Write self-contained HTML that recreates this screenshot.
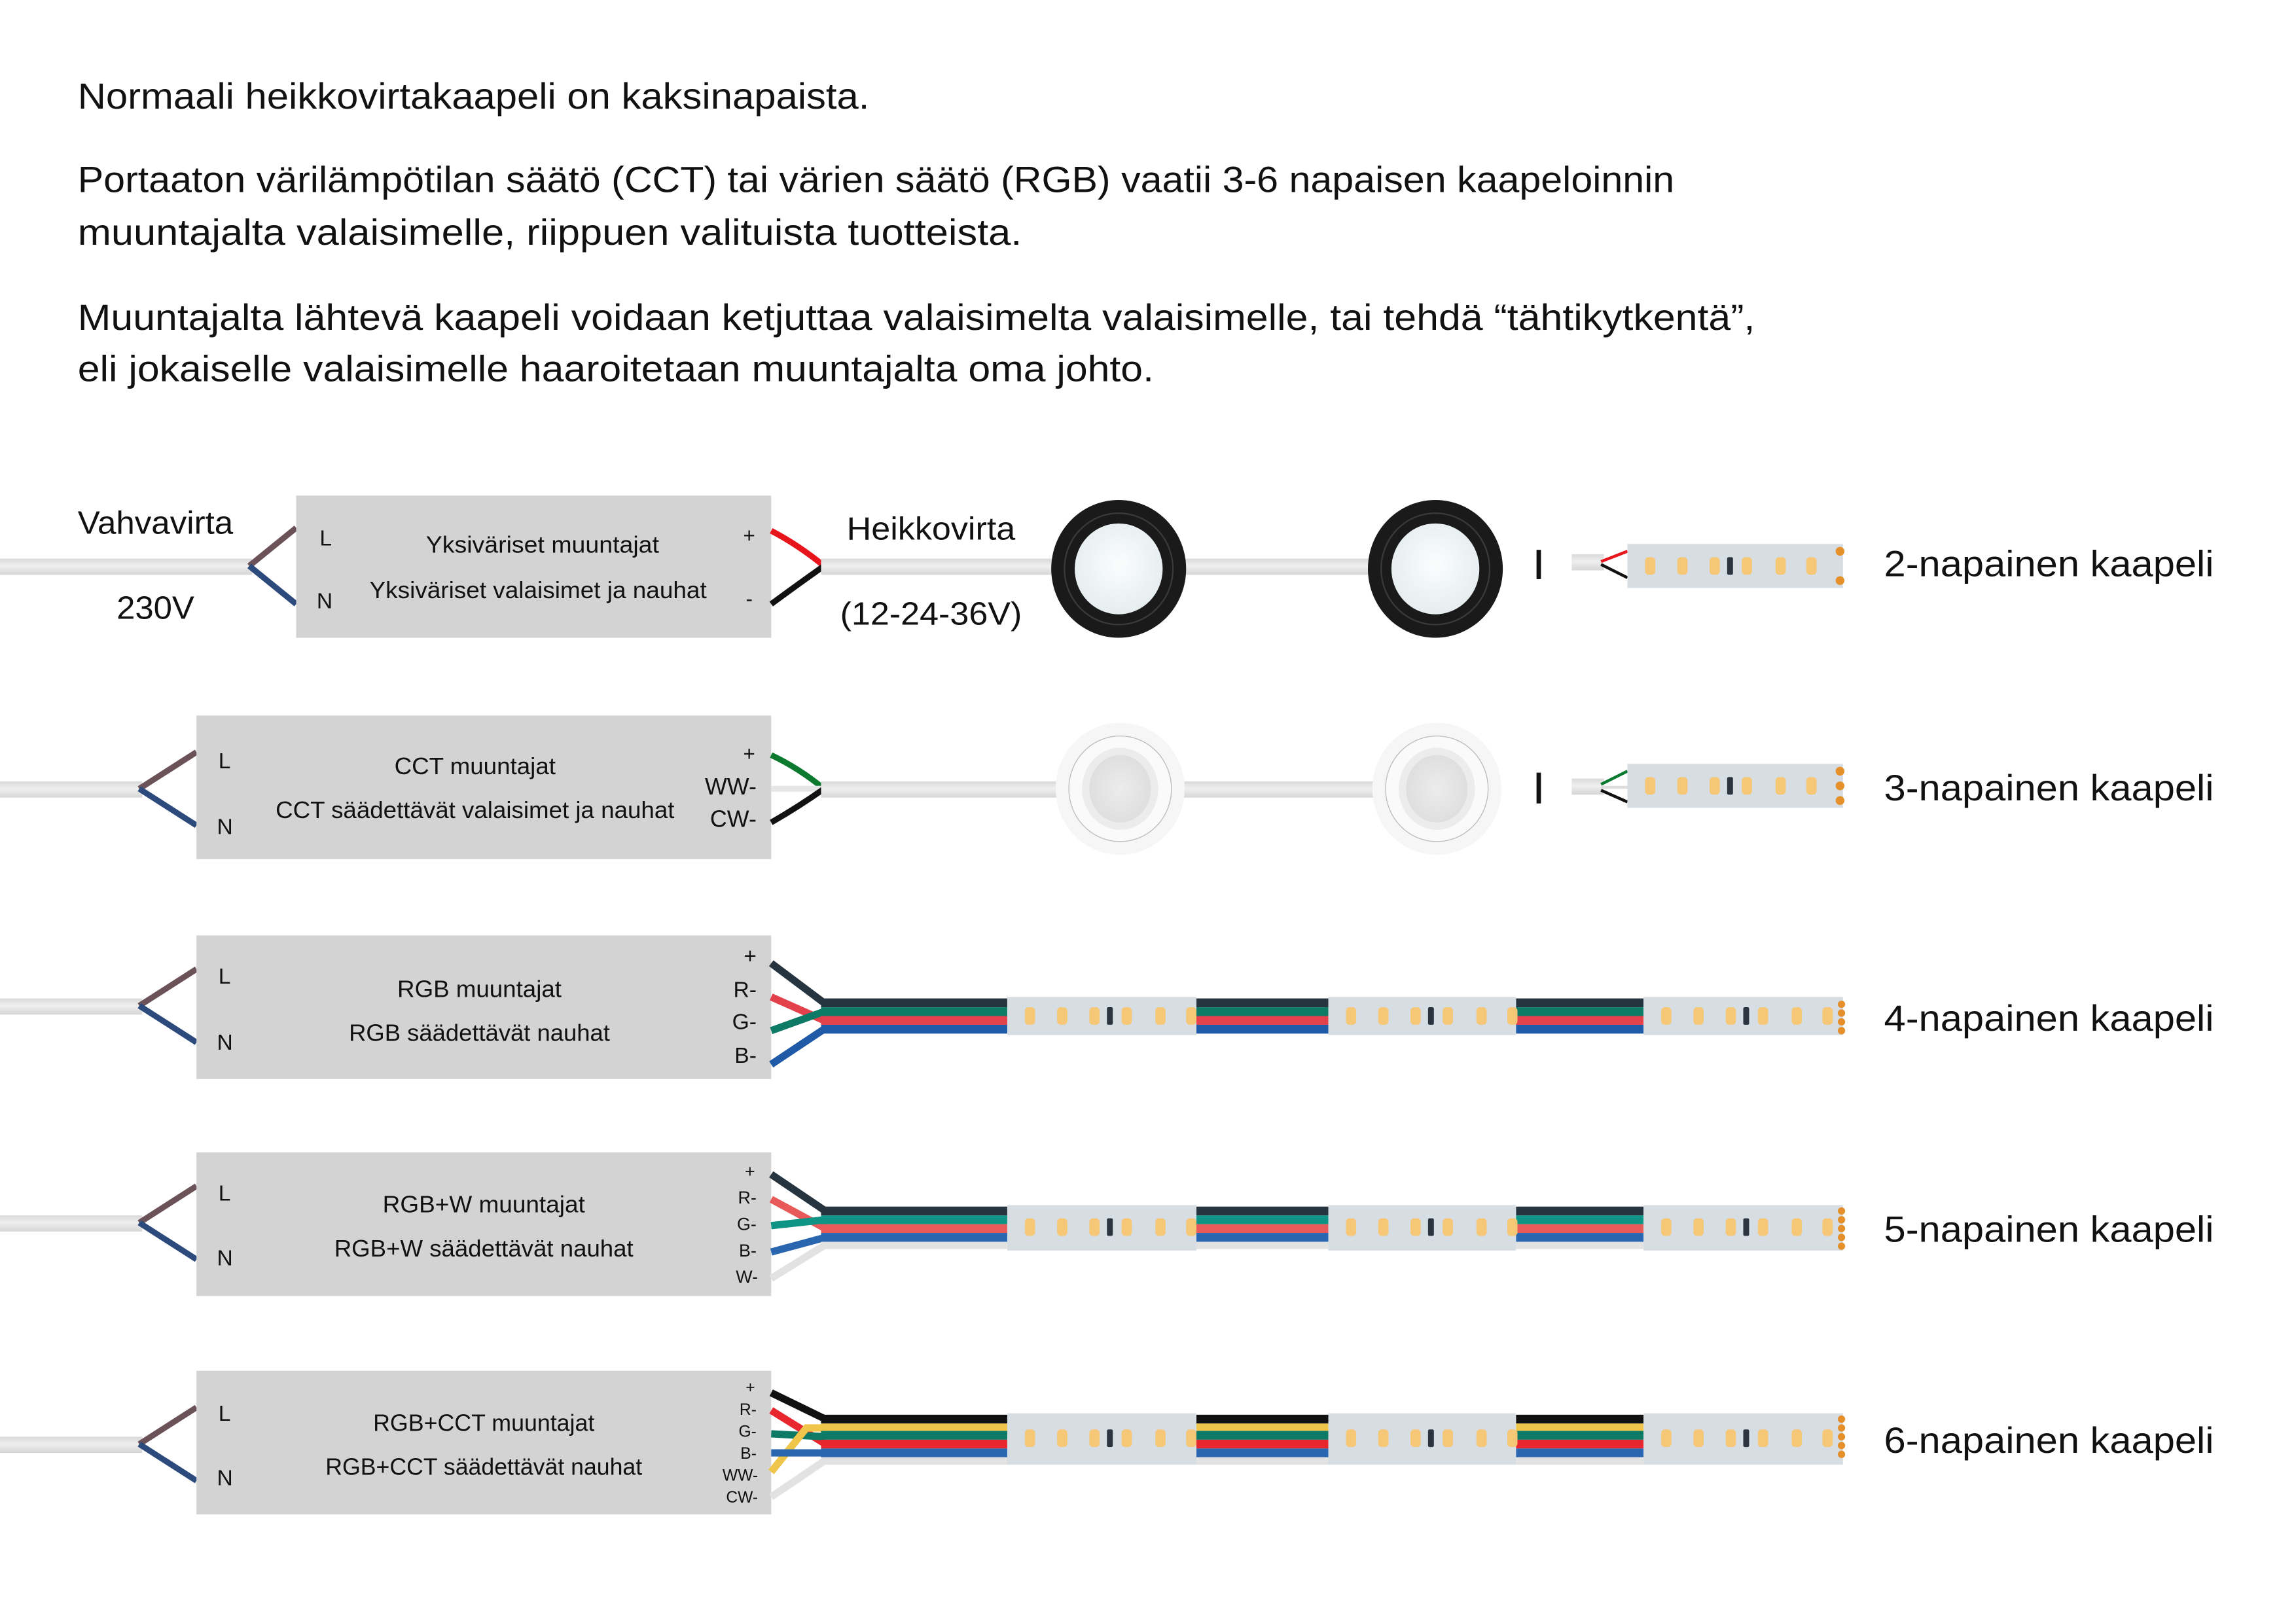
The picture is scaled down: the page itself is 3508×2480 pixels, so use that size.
<!DOCTYPE html>
<html><head><meta charset="utf-8"><style>
html,body{margin:0;padding:0;background:#fff}
svg{display:block}
text{font-family:"Liberation Sans",sans-serif;fill:#111}
</style></head><body>
<svg width="3508" height="2480" viewBox="0 0 1566 1107" xmlns="http://www.w3.org/2000/svg">
<defs>
<linearGradient id="cab" x1="0" y1="0" x2="0" y2="1">
<stop offset="0" stop-color="#d9d9d9"/><stop offset="0.45" stop-color="#efefef"/><stop offset="1" stop-color="#d6d6d6"/>
</linearGradient>
<radialGradient id="lens" cx="0.5" cy="0.45" r="0.6"><stop offset="0" stop-color="#fbfdfd"/><stop offset="1" stop-color="#e3ecee"/></radialGradient>
<radialGradient id="cup" cx="0.5" cy="0.5" r="0.6"><stop offset="0" stop-color="#ececec"/><stop offset="1" stop-color="#dcdcdc"/></radialGradient>
<g id="leds">
<rect x="12" y="-6" width="7" height="12" rx="2.5" fill="#f6c777"/>
<rect x="34" y="-6" width="7" height="12" rx="2.5" fill="#f6c777"/>
<rect x="56" y="-6" width="7" height="12" rx="2.5" fill="#f6c777"/>
<rect x="68" y="-6" width="4" height="12" rx="1" fill="#2c3440"/>
<rect x="78" y="-6" width="7" height="12" rx="2.5" fill="#f6c777"/>
<rect x="101" y="-6" width="7" height="12" rx="2.5" fill="#f6c777"/>
<rect x="122" y="-6" width="7" height="12" rx="2.5" fill="#f6c777"/>
</g>
<g id="blk">
<ellipse cx="0" cy="0" rx="46" ry="47" fill="#1a1a1a"/>
<ellipse cx="0" cy="0" rx="37" ry="38" fill="none" stroke="#3a3a3a" stroke-width="1"/>
<ellipse cx="0" cy="0" rx="30" ry="31" fill="url(#lens)"/>
</g>
<g id="wht">
<ellipse cx="0" cy="0" rx="44" ry="45" fill="#f6f6f6"/>
<ellipse cx="0" cy="0" rx="35" ry="36" fill="#fafafa" stroke="#bcbcbc" stroke-width="0.6"/>
<ellipse cx="0" cy="0" rx="26" ry="28" fill="#ececec"/>
<ellipse cx="0" cy="0" rx="21" ry="23" fill="url(#cup)"/>
</g>
</defs>

<g font-size="25">
<text x="53" y="74" textLength="540" lengthAdjust="spacingAndGlyphs">Normaali heikkovirtakaapeli on kaksinapaista.</text>
<text x="53" y="131" textLength="1089" lengthAdjust="spacingAndGlyphs">Portaaton värilämpötilan säätö (CCT) tai värien säätö (RGB) vaatii 3-6 napaisen kaapeloinnin</text>
<text x="53" y="167" textLength="644" lengthAdjust="spacingAndGlyphs">muuntajalta valaisimelle, riippuen valituista tuotteista.</text>
<text x="53" y="225" textLength="1144" lengthAdjust="spacingAndGlyphs">Muuntajalta lähtevä kaapeli voidaan ketjuttaa valaisimelta valaisimelle, tai tehdä “tähtikytkentä”,</text>
<text x="53" y="260" textLength="734" lengthAdjust="spacingAndGlyphs">eli jokaiselle valaisimelle haaroitetaan muuntajalta oma johto.</text>
</g>

<!-- ROW 1 -->
<rect x="0" y="381" width="172" height="11" fill="url(#cab)"/>
<path d="M170 386 L202 360" stroke="#6b5258" stroke-width="4" fill="none"/>
<path d="M170 386 L202 412" stroke="#2c4a7c" stroke-width="4" fill="none"/>
<rect x="202" y="338" width="324" height="97" fill="#d3d3d3"/>
<text x="106" y="364" font-size="22" text-anchor="middle" textLength="106" lengthAdjust="spacingAndGlyphs">Vahvavirta</text>
<text x="106" y="422" font-size="22" text-anchor="middle" textLength="53" lengthAdjust="spacingAndGlyphs">230V</text>
<text x="218" y="372" font-size="15">L</text>
<text x="216" y="415" font-size="15">N</text>
<text x="370" y="377" font-size="16" text-anchor="middle" textLength="159" lengthAdjust="spacingAndGlyphs">Yksiväriset muuntajat</text>
<text x="367" y="408" font-size="16" text-anchor="middle" textLength="230" lengthAdjust="spacingAndGlyphs">Yksiväriset valaisimet ja nauhat</text>
<text x="511" y="370" font-size="14" text-anchor="middle">+</text>
<text x="511" y="413" font-size="14" text-anchor="middle">-</text>
<path d="M526 362 Q545 372 562 386" stroke="#e8141c" stroke-width="4" fill="none"/>
<path d="M526 412 Q545 398 562 386" stroke="#111" stroke-width="4" fill="none"/>
<rect x="560" y="381" width="160" height="11" fill="url(#cab)"/>
<rect x="806" y="381" width="130" height="11" fill="url(#cab)"/>
<text x="635" y="368" font-size="22" text-anchor="middle" textLength="115" lengthAdjust="spacingAndGlyphs">Heikkovirta</text>
<text x="635" y="426" font-size="22" text-anchor="middle" textLength="124" lengthAdjust="spacingAndGlyphs">(12-24-36V)</text>
<use href="#blk" x="763" y="388"/>
<use href="#blk" x="979" y="388"/>
<rect x="1048" y="375" width="3" height="20" fill="#111"/>
<rect x="1072" y="378" width="22" height="11" fill="url(#cab)"/>
<path d="M1092 383 L1110 376" stroke="#e8141c" stroke-width="2" fill="none"/>
<path d="M1092 385 L1110 394" stroke="#111" stroke-width="2" fill="none"/>
<rect x="1110" y="371" width="147" height="30" fill="#d6dde3"/>
<use href="#leds" x="1110" y="386"/>
<circle cx="1255" cy="376" r="3" fill="#e5902a"/><circle cx="1255" cy="396" r="3" fill="#e5902a"/>
<text x="1285" y="393" font-size="25" textLength="225" lengthAdjust="spacingAndGlyphs">2-napainen kaapeli</text>

<!-- ROW 2 -->
<rect x="0" y="533" width="97" height="11" fill="url(#cab)"/>
<path d="M95 538 L134 513" stroke="#6b5258" stroke-width="4" fill="none"/>
<path d="M95 538 L134 563" stroke="#2c4a7c" stroke-width="4" fill="none"/>
<rect x="134" y="488" width="392" height="98" fill="#d3d3d3"/>
<text x="149" y="524" font-size="15">L</text>
<text x="148" y="569" font-size="15">N</text>
<text x="324" y="528" font-size="16" text-anchor="middle" textLength="110" lengthAdjust="spacingAndGlyphs">CCT muuntajat</text>
<text x="324" y="558" font-size="16" text-anchor="middle" textLength="272" lengthAdjust="spacingAndGlyphs">CCT säädettävät valaisimet ja nauhat</text>
<text x="511" y="519" font-size="14" text-anchor="middle">+</text>
<text x="516" y="542" font-size="16" text-anchor="end">WW-</text>
<text x="516" y="564" font-size="16" text-anchor="end">CW-</text>
<path d="M526 515 Q545 524 562 538" stroke="#0b7a2e" stroke-width="4" fill="none"/>
<path d="M526 538 L562 538" stroke="#e6e6e6" stroke-width="4" fill="none"/>
<path d="M526 561 Q545 550 562 538" stroke="#111" stroke-width="4" fill="none"/>
<rect x="560" y="533" width="162" height="11" fill="url(#cab)"/>
<rect x="806" y="533" width="134" height="11" fill="url(#cab)"/>
<use href="#wht" x="764" y="538"/>
<use href="#wht" x="980" y="538"/>
<rect x="1048" y="527" width="3" height="21" fill="#111"/>
<rect x="1072" y="531" width="22" height="11" fill="url(#cab)"/>
<path d="M1092 535 L1110 526" stroke="#0b7a2e" stroke-width="2" fill="none"/>
<path d="M1092 537 L1110 537" stroke="#ddd" stroke-width="2" fill="none"/>
<path d="M1092 539 L1110 547" stroke="#111" stroke-width="2" fill="none"/>
<rect x="1110" y="521" width="147" height="30" fill="#d6dde3"/>
<use href="#leds" x="1110" y="536"/>
<circle cx="1255" cy="526" r="3" fill="#e5902a"/><circle cx="1255" cy="536" r="3" fill="#e5902a"/><circle cx="1255" cy="546" r="3" fill="#e5902a"/>
<text x="1285" y="546" font-size="25" textLength="225" lengthAdjust="spacingAndGlyphs">3-napainen kaapeli</text>

<!-- ROW 3 -->
<rect x="0" y="681" width="97" height="11" fill="url(#cab)"/>
<path d="M95 686 L134 661" stroke="#6b5258" stroke-width="4" fill="none"/>
<path d="M95 686 L134 711" stroke="#2c4a7c" stroke-width="4" fill="none"/>
<rect x="134" y="638" width="392" height="98" fill="#d3d3d3"/>
<text x="149" y="671" font-size="15">L</text>
<text x="148" y="716" font-size="15">N</text>
<text x="327" y="680" font-size="16" text-anchor="middle" textLength="112" lengthAdjust="spacingAndGlyphs">RGB muuntajat</text>
<text x="327" y="710" font-size="16" text-anchor="middle" textLength="178" lengthAdjust="spacingAndGlyphs">RGB säädettävät nauhat</text>
<g font-size="15" text-anchor="end">
<text x="516" y="657">+</text><text x="516" y="680">R-</text><text x="516" y="702">G-</text><text x="516" y="725">B-</text>
</g>
<g fill="none" stroke-width="5">
<path d="M526 657 L562 684" stroke="#263440"/>
<path d="M526 680 L562 696" stroke="#e2404a"/>
<path d="M526 703 L562 690" stroke="#0d7a66"/>
<path d="M526 726 L562 702" stroke="#1f5aa6"/>
</g>
<g>
<rect x="560" y="681" width="127" height="6" fill="#263440"/><rect x="560" y="687" width="127" height="6" fill="#0d7a66"/><rect x="560" y="693" width="127" height="6" fill="#e2404a"/><rect x="560" y="699" width="127" height="6" fill="#1f5aa6"/>
<rect x="816" y="681" width="90" height="6" fill="#263440"/><rect x="816" y="687" width="90" height="6" fill="#0d7a66"/><rect x="816" y="693" width="90" height="6" fill="#e2404a"/><rect x="816" y="699" width="90" height="6" fill="#1f5aa6"/>
<rect x="1034" y="681" width="87" height="6" fill="#263440"/><rect x="1034" y="687" width="87" height="6" fill="#0d7a66"/><rect x="1034" y="693" width="87" height="6" fill="#e2404a"/><rect x="1034" y="699" width="87" height="6" fill="#1f5aa6"/>
<rect x="687" y="680" width="129" height="26" fill="#d6dde3"/><use href="#leds" x="687" y="693"/>
<rect x="906" y="680" width="128" height="26" fill="#d6dde3"/><use href="#leds" x="906" y="693"/>
<rect x="1121" y="680" width="136" height="26" fill="#d6dde3"/><use href="#leds" x="1121" y="693"/>
<circle cx="1256" cy="685" r="2.5" fill="#e5902a"/><circle cx="1256" cy="691" r="2.5" fill="#e5902a"/><circle cx="1256" cy="697" r="2.5" fill="#e5902a"/><circle cx="1256" cy="703" r="2.5" fill="#e5902a"/>
</g>
<text x="1285" y="703" font-size="25" textLength="225" lengthAdjust="spacingAndGlyphs">4-napainen kaapeli</text>

<!-- ROW 4 -->
<rect x="0" y="829" width="97" height="11" fill="url(#cab)"/>
<path d="M95 834 L134 809" stroke="#6b5258" stroke-width="4" fill="none"/>
<path d="M95 834 L134 859" stroke="#2c4a7c" stroke-width="4" fill="none"/>
<rect x="134" y="786" width="392" height="98" fill="#d3d3d3"/>
<text x="149" y="819" font-size="15">L</text>
<text x="148" y="863" font-size="15">N</text>
<text x="330" y="827" font-size="16" text-anchor="middle" textLength="138" lengthAdjust="spacingAndGlyphs">RGB+W muuntajat</text>
<text x="330" y="857" font-size="16" text-anchor="middle" textLength="204" lengthAdjust="spacingAndGlyphs">RGB+W säädettävät nauhat</text>
<g font-size="12" text-anchor="end">
<text x="515" y="803">+</text><text x="516" y="821">R-</text><text x="516" y="839">G-</text><text x="516" y="857">B-</text><text x="517" y="875">W-</text>
</g>
<g fill="none" stroke-width="5">
<path d="M526 801 L563 826" stroke="#263440"/>
<path d="M526 818 L563 838" stroke="#e85a5a"/>
<path d="M526 836 L563 832" stroke="#0e9484"/>
<path d="M526 854 L563 844" stroke="#2a66b0"/>
<path d="M526 872 L563 849" stroke="#e2e2e2"/>
</g>
<g>
<rect x="560" y="823" width="127" height="6" fill="#263440"/><rect x="560" y="829" width="127" height="6" fill="#0e9484"/><rect x="560" y="835" width="127" height="6" fill="#e85a5a"/><rect x="560" y="841" width="127" height="6" fill="#2a66b0"/><rect x="560" y="847" width="127" height="5" fill="#e2e2e2"/>
<rect x="816" y="823" width="90" height="6" fill="#263440"/><rect x="816" y="829" width="90" height="6" fill="#0e9484"/><rect x="816" y="835" width="90" height="6" fill="#e85a5a"/><rect x="816" y="841" width="90" height="6" fill="#2a66b0"/><rect x="816" y="847" width="90" height="5" fill="#e2e2e2"/>
<rect x="1034" y="823" width="87" height="6" fill="#263440"/><rect x="1034" y="829" width="87" height="6" fill="#0e9484"/><rect x="1034" y="835" width="87" height="6" fill="#e85a5a"/><rect x="1034" y="841" width="87" height="6" fill="#2a66b0"/><rect x="1034" y="847" width="87" height="5" fill="#e2e2e2"/>
<rect x="687" y="822" width="129" height="31" fill="#d6dde3"/><use href="#leds" x="687" y="837"/>
<rect x="906" y="822" width="128" height="31" fill="#d6dde3"/><use href="#leds" x="906" y="837"/>
<rect x="1121" y="822" width="136" height="31" fill="#d6dde3"/><use href="#leds" x="1121" y="837"/>
<circle cx="1256" cy="826" r="2.5" fill="#e5902a"/><circle cx="1256" cy="832" r="2.5" fill="#e5902a"/><circle cx="1256" cy="838" r="2.5" fill="#e5902a"/><circle cx="1256" cy="844" r="2.5" fill="#e5902a"/><circle cx="1256" cy="850" r="2.5" fill="#e5902a"/>
</g>
<text x="1285" y="847" font-size="25" textLength="225" lengthAdjust="spacingAndGlyphs">5-napainen kaapeli</text>

<!-- ROW 5 -->
<rect x="0" y="980" width="97" height="11" fill="url(#cab)"/>
<path d="M95 985 L134 960" stroke="#6b5258" stroke-width="4" fill="none"/>
<path d="M95 985 L134 1010" stroke="#2c4a7c" stroke-width="4" fill="none"/>
<rect x="134" y="935" width="392" height="98" fill="#d3d3d3"/>
<text x="149" y="969" font-size="15">L</text>
<text x="148" y="1013" font-size="15">N</text>
<text x="330" y="976" font-size="16" text-anchor="middle" textLength="151" lengthAdjust="spacingAndGlyphs">RGB+CCT muuntajat</text>
<text x="330" y="1006" font-size="16" text-anchor="middle" textLength="216" lengthAdjust="spacingAndGlyphs">RGB+CCT säädettävät nauhat</text>
<g font-size="11" text-anchor="end">
<text x="515" y="950">+</text><text x="516" y="965">R-</text><text x="516" y="980">G-</text><text x="516" y="995">B-</text><text x="517" y="1010">WW-</text><text x="517" y="1025">CW-</text>
</g>
<g fill="none" stroke-width="5">
<path d="M526 950 L563 968" stroke="#111"/>
<path d="M526 962 L563 985" stroke="#e8262e"/>
<path d="M526 978 L563 980" stroke="#0d7a66"/>
<path d="M526 1004 L550 974 L563 974" stroke="#f0c64a"/>
<path d="M526 1021 L563 996" stroke="#e2e2e2"/>
<path d="M526 991 L563 991" stroke="#2a66b0"/>
</g>
<g>
<rect x="560" y="965" width="127" height="6" fill="#111"/><rect x="560" y="971" width="127" height="5" fill="#f0c64a"/><rect x="560" y="976" width="127" height="6" fill="#0d7a66"/><rect x="560" y="982" width="127" height="6" fill="#e8262e"/><rect x="560" y="988" width="127" height="6" fill="#2a66b0"/><rect x="560" y="994" width="127" height="5" fill="#e2e2e2"/>
<rect x="816" y="965" width="90" height="6" fill="#111"/><rect x="816" y="971" width="90" height="5" fill="#f0c64a"/><rect x="816" y="976" width="90" height="6" fill="#0d7a66"/><rect x="816" y="982" width="90" height="6" fill="#e8262e"/><rect x="816" y="988" width="90" height="6" fill="#2a66b0"/><rect x="816" y="994" width="90" height="5" fill="#e2e2e2"/>
<rect x="1034" y="965" width="87" height="6" fill="#111"/><rect x="1034" y="971" width="87" height="5" fill="#f0c64a"/><rect x="1034" y="976" width="87" height="6" fill="#0d7a66"/><rect x="1034" y="982" width="87" height="6" fill="#e8262e"/><rect x="1034" y="988" width="87" height="6" fill="#2a66b0"/><rect x="1034" y="994" width="87" height="5" fill="#e2e2e2"/>
<rect x="687" y="964" width="129" height="35" fill="#d6dde3"/><use href="#leds" x="687" y="981"/>
<rect x="906" y="964" width="128" height="35" fill="#d6dde3"/><use href="#leds" x="906" y="981"/>
<rect x="1121" y="964" width="136" height="35" fill="#d6dde3"/><use href="#leds" x="1121" y="981"/>
<circle cx="1256" cy="968" r="2.5" fill="#e5902a"/><circle cx="1256" cy="974" r="2.5" fill="#e5902a"/><circle cx="1256" cy="980" r="2.5" fill="#e5902a"/><circle cx="1256" cy="986" r="2.5" fill="#e5902a"/><circle cx="1256" cy="992" r="2.5" fill="#e5902a"/>
</g>
<text x="1285" y="991" font-size="25" textLength="225" lengthAdjust="spacingAndGlyphs">6-napainen kaapeli</text>
</svg>
</body></html>
